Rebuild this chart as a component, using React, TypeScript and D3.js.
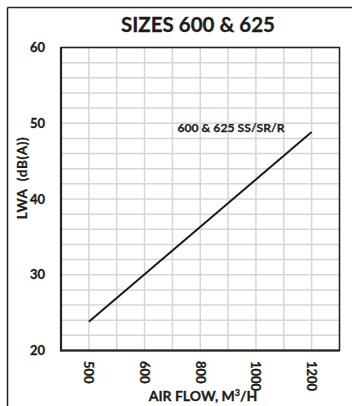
import React from "react";
import * as d3 from "d3";

const title = "SIZES 600 & 625";
const xCategories = ["500", "600", "800", "1000", "1200"];
const seriesName = "600 & 625 SS/SR/R";
const seriesX = ["500", "1200"];
const seriesY = [23.8, 48.85];
const yTicks = [20, 30, 40, 50, 60];
const yDomain = [20, 60];
const yGridStep = 2;
const xLabel = "AIR FLOW, M";
const yLabel = "LWA  (dB(A))";

const W = 352;
const H = 406;
const left = 61;
const right = 339.5;
const top = 47.5;
const bottom = 350.5;
const FONT = "Lato, 'Open Sans', sans-serif";
const INK = "#1c1c1c";

export default function App() {
  const x = d3.scalePoint<string>().domain(xCategories).range([left, right]).padding(0.5);
  const step = x.step();
  const y = d3.scaleLinear().domain(yDomain).range([bottom, top]);

  const xGrid: number[] = [];
  for (let i = 0; i <= xCategories.length * 2; i++) xGrid.push(left + (i * step) / 2);
  const yGrid = d3.range(yDomain[0], yDomain[1] + 0.001, yGridStep);

  const pts: [number, number][] = seriesX.map((c, i) => [x(c) as number, y(seriesY[i])]);
  const line = d3.line<[number, number]>()(pts) || "";

  return (
    <svg width={W} height={H} style={{ position: "absolute", left: 0, top: 0, background: "#fff" }}>
      <rect x={0} y={0} width={W} height={H} fill="#fff" />
      <line x1={7.5} y1={7.5} x2={W} y2={7.5} stroke="#222" strokeWidth={1.5} />
      <line x1={7.5} y1={7.5} x2={7.5} y2={H} stroke="#222" strokeWidth={1.5} />
      <text x={198} y={32} textAnchor="middle" fontFamily={FONT} fontWeight={700} fontSize={20.5} fill={INK} stroke={INK} strokeWidth={0.3}>
        {title}
      </text>
      {yGrid.map((v) => (
        <line key={"yg" + v} x1={left} x2={right} y1={y(v)} y2={y(v)} stroke="#d6d6d6" strokeWidth={1.5} />
      ))}
      {xGrid.map((v, i) => (
        <line key={"xg" + i} x1={v} x2={v} y1={top} y2={bottom} stroke="#d6d6d6" strokeWidth={1.5} />
      ))}
      <rect x={left} y={top} width={right - left} height={bottom - top} fill="none" stroke="#222" strokeWidth={1.5} />
      <line x1={left} y1={top} x2={left} y2={bottom + 1} stroke="#222" strokeWidth={2.2} />
      <line x1={left} y1={bottom} x2={right} y2={bottom} stroke="#222" strokeWidth={2.2} />
      <path d={line} fill="none" stroke="#1a1a1a" strokeWidth={2} />
      <text x={231} y={132} textAnchor="middle" fontFamily={FONT} fontWeight={700} fontSize={12.2} fill={INK} stroke={INK} strokeWidth={0.25}>
        {seriesName}
      </text>
      {yTicks.map((v) => (
        <text key={"yt" + v} x={45} y={y(v)} dy="0.35em" textAnchor="end" fontFamily={FONT} fontWeight={700} fontSize={13} fill={INK} stroke={INK} strokeWidth={0.3}>
          {v}
        </text>
      ))}
      {xCategories.map((c) => (
        <text
          key={"xt" + c}
          transform={`translate(${x(c)},${361}) rotate(90)`}
          dy="0.35em"
          textAnchor="start"
          fontFamily={FONT}
          fontWeight={700}
          fontSize={13}
          fill={INK}
          stroke={INK}
          strokeWidth={0.3}
        >
          {c}
        </text>
      ))}
      <text x={203} y={401} textAnchor="middle" fontFamily={FONT} fontWeight={700} fontSize={14} fill={INK} stroke={INK} strokeWidth={0.3}>
        {xLabel}
        <tspan dy={-5} fontSize={9}>3</tspan>
        <tspan dy={5}>/H</tspan>
      </text>
      <text
        transform={`translate(22,${178}) rotate(-90)`}
        dy="0.35em"
        textAnchor="middle"
        fontFamily={FONT}
        fontWeight={700}
        fontSize={13.5}
        letterSpacing={0.6}
        style={{ whiteSpace: "pre" }}
        fill={INK}
        stroke={INK}
        strokeWidth={0.3}
      >
        {yLabel}
      </text>
    </svg>
  );
}
